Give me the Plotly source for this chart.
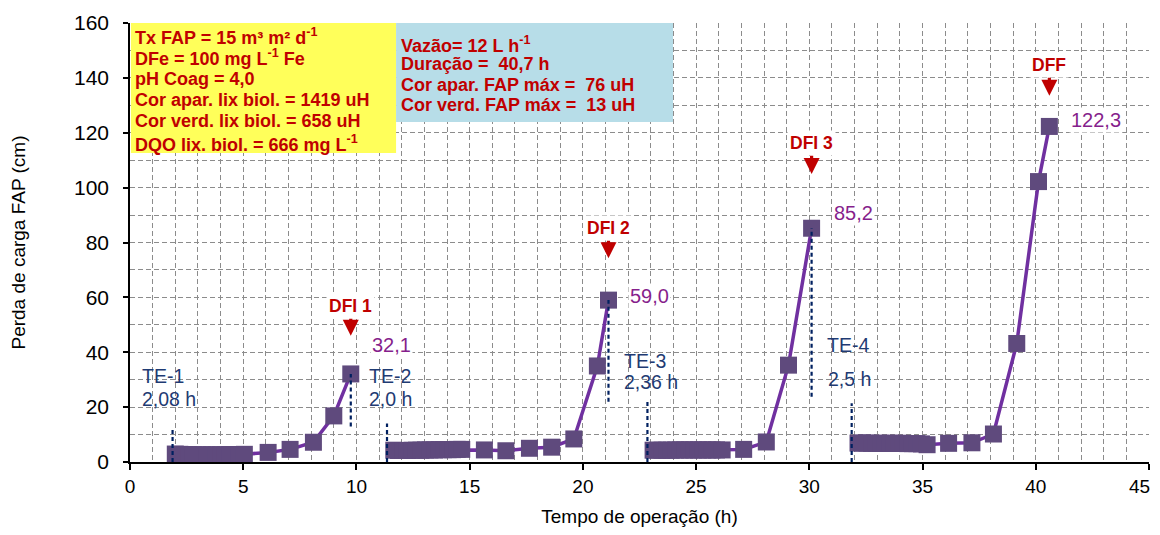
import plotly.graph_objects as go

# ---------------- data (time in h, head loss in cm) ----------------
c1_t = [2.0, 2.2, 2.4, 2.6, 2.8, 3.0, 3.2, 3.4, 3.6, 3.8, 4.0, 4.2, 4.4, 4.6, 4.8, 5.05,
        6.1, 7.07, 8.1, 9.0, 9.75]
c1_h = [2.9, 2.8, 2.7, 2.7, 2.6, 2.6, 2.6, 2.6, 2.6, 2.6, 2.6, 2.6, 2.7, 2.7, 2.7, 2.8,
        3.5, 4.6, 7.2, 16.8, 32.1]

c2_t = [11.65, 11.85, 12.05, 12.25, 12.45, 12.65, 12.85, 13.05, 13.25, 13.45, 13.65, 13.85,
        14.05, 14.25, 14.45, 14.65, 15.65, 16.6, 17.64, 18.62, 19.6, 20.64, 21.13]
c2_h = [4.3, 4.2, 4.2, 4.2, 4.3, 4.3, 4.3, 4.4, 4.4, 4.4, 4.5, 4.5,
        4.5, 4.5, 4.6, 4.6, 4.4, 4.1, 5.0, 5.4, 8.4, 35.0, 59.0]

c3_t = [23.1, 23.3, 23.5, 23.7, 23.9, 24.1, 24.3, 24.5, 24.7, 24.9, 25.1, 25.3, 25.5, 25.7,
        25.9, 26.15, 27.1, 28.1, 29.08, 30.1]
c3_h = [4.3, 4.3, 4.3, 4.3, 4.3, 4.4, 4.4, 4.4, 4.4, 4.4, 4.4, 4.4, 4.4, 4.4,
        4.4, 4.4, 4.6, 7.3, 35.3, 85.2]

c4_t = [32.15, 32.35, 32.55, 32.75, 32.95, 33.15, 33.35, 33.55, 33.75, 33.95, 34.15, 34.35,
        34.55, 34.75, 34.95, 35.2, 36.15, 37.18, 38.13, 39.16, 40.12, 40.6]
c4_h = [6.9, 6.9, 6.9, 6.8, 6.8, 6.8, 6.8, 6.8, 6.8, 6.8, 6.8, 6.7,
        6.7, 6.7, 6.6, 6.3, 6.8, 7.0, 10.2, 43.2, 102.2, 122.3]

cycles_t = [c1_t, c2_t, c3_t, c4_t]
cycles_h = [c1_h, c2_h, c3_h, c4_h]

# x tick labels
x_ticks = [0, 5, 10, 15, 20, 25, 30, 35, 40, 45]
x_ticklabels = ["0", "5", "10", "15", "20", "25", "30", "35", "40", "45"]

# Filter run times (TE) and filtration-end labels
te_names = ["TE-1", "TE-2", "TE-3", "TE-4"]
te_hours = ["2,08 h", "2,0 h", "2,36 h", "2,5 h"]
te_x = [1.88, 11.35, 22.85, 31.87]
te_top = [12.4, 14.0, 22.0, 21.4]
dfi_names = ["DFI 1", "DFI 2", "DFI 3", "DFF"]
dfi_bottom = [12.9, 22.0, 23.8]

yellow_lines = ["Tx FAP = 15 m³ m² d<sup>-1</sup>",
                "DFe = 100 mg L<sup>-1</sup> Fe",
                "pH Coag = 4,0",
                "Cor apar. lix biol. = 1419 uH",
                "Cor verd. lix biol. = 658 uH",
                "DQO lix. biol. = 666 mg L<sup>-1</sup>"]
blue_lines = ["Vazão= 12 L h<sup>-1</sup>",
              "Duração =  40,7 h",
              "Cor apar. FAP máx =  76 uH",
              "Cor verd. FAP máx =  13 uH"]

# ---------------- styles ----------------
FONT = "Liberation Sans, Arial, sans-serif"
LINE_C = "#7030A0"
MARK_C = "#5F4A7D"
NAVY = "#1F3B73"
RED = "#C00000"
VAL_C = "#861F8C"
GRID_C = "#8C8C8C"
GDASH = "5px,3px"

fig = go.Figure()

for t, h in zip(cycles_t, cycles_h):
    fig.add_trace(go.Scatter(
        x=t, y=h, mode="lines+markers",
        line=dict(color=LINE_C, width=3.5),
        marker=dict(symbol="square", size=17, color=MARK_C, line=dict(width=0)),
        showlegend=False, hoverinfo="x+y"))

shapes = []
annotations = []

# text boxes
shapes.append(dict(type="rect", xref="x", yref="y", x0=0.04, x1=11.75, y0=112.6, y1=160,
                   fillcolor="#FFFF5A", line=dict(width=0), layer="above"))
shapes.append(dict(type="rect", xref="x", yref="y", x0=11.75, x1=23.98, y0=123.9, y1=160,
                   fillcolor="#B7DDE8", line=dict(width=0), layer="above"))
yellow_y = [155.0, 147.3, 139.6, 131.9, 124.4, 116.1]
for txt, yy in zip(yellow_lines, yellow_y):
    annotations.append(dict(x=0.12, y=yy, xref="x", yref="y", text=txt, showarrow=False,
                            xanchor="left", yanchor="middle",
                            font=dict(family=FONT, size=18, color=RED, weight="bold")))
blue_y = [152.3, 145.1, 137.3, 130.0]
for txt, yy in zip(blue_lines, blue_y):
    annotations.append(dict(x=11.87, y=yy, xref="x", yref="y", text=txt, showarrow=False,
                            xanchor="left", yanchor="middle",
                            font=dict(family=FONT, size=18, color=RED, weight="bold")))

# TE dashed lines and labels
te_label_x = [0.44, 10.45, 21.72, 30.7]
te_label_y1 = [31.4, 31.4, 36.8, 42.8]
te_label_y2 = [23.1, 23.1, 29.0, 30.3]
for i in range(4):
    shapes.append(dict(type="line", xref="x", yref="y", x0=te_x[i], x1=te_x[i],
                       y0=0, y1=te_top[i], line=dict(color="#002060", width=2.2, dash="4px,3px"),
                       layer="above"))
    annotations.append(dict(x=te_label_x[i], y=te_label_y1[i], xref="x", yref="y",
                            text=te_names[i], showarrow=False, xanchor="left", yanchor="middle",
                            font=dict(family=FONT, size=19.5, color=NAVY)))
    annotations.append(dict(x=te_label_x[i] + 0.02, y=te_label_y2[i], xref="x", yref="y",
                            text=te_hours[i], showarrow=False, xanchor="left", yanchor="middle",
                            font=dict(family=FONT, size=19.5, color=NAVY)))

# DFI dashed lines (from peak downward)
for i in range(3):
    xt = cycles_t[i][-1]
    shapes.append(dict(type="line", xref="x", yref="y", x0=xt, x1=xt,
                       y0=dfi_bottom[i], y1=cycles_h[i][-1],
                       line=dict(color="#002060", width=2.2, dash="4px,3px"), layer="above"))

# DFI / DFF labels with arrows
dfi_text_y = [56.8, 85.2, 116.2, 144.6]
dfi_arrow_y = [46.0, 74.3, 105.0, 133.5]
for i in range(4):
    xt = cycles_t[i][-1]
    annotations.append(dict(x=xt, y=dfi_arrow_y[i], xref="x", yref="y", text=dfi_names[i],
                            showarrow=True, ax=xt, ay=dfi_text_y[i], axref="x", ayref="y",
                            arrowhead=2, arrowsize=1.0, arrowwidth=3.2, arrowcolor=RED,
                            standoff=0, startstandoff=0,
                            bgcolor="white", borderpad=2,
                            font=dict(family=FONT, size=17.5, color=RED, weight="bold")))

# peak value labels
val_x = [11.53, 22.95, 31.95, 42.67]
val_y = [42.6, 60.5, 90.7, 124.6]
for i in range(4):
    pk = cycles_h[i][-1]
    annotations.append(dict(x=val_x[i], y=val_y[i], xref="x", yref="y",
                            text=f"{pk:.1f}".replace(".", ","), showarrow=False,
                            xanchor="center", yanchor="middle", bgcolor="white", borderpad=1,
                            font=dict(family=FONT, size=20, color=VAL_C)))

# last x tick label drawn right-aligned so it stays inside the page
annotations.append(dict(x=x_ticks[-1], y=0, xref="x", yref="paper", text=x_ticklabels[-1],
                        showarrow=False, xanchor="right", yanchor="middle",
                        xshift=3, yshift=-24,
                        font=dict(family=FONT, size=19, color="black")))

fig.update_layout(
    width=1144, height=519, autosize=False,
    margin=dict(l=122, r=3, t=15, b=65),
    paper_bgcolor="white", plot_bgcolor="white",
    font=dict(family=FONT, color="black"),
    shapes=shapes, annotations=annotations,
    xaxis=dict(range=[0, 45], tickmode="array", tickvals=x_ticks,
               ticktext=x_ticklabels[:-1] + [""],
               showline=True, linecolor="black",
               linewidth=1.5, ticks="outside", ticklen=6, tickcolor="black", tickwidth=1.5,
               automargin=False,
               showgrid=True, gridcolor=GRID_C, griddash=GDASH, gridwidth=1.2,
               minor=dict(dtick=1, showgrid=True, gridcolor=GRID_C, griddash=GDASH,
                          gridwidth=1.2),
               zeroline=False, tickfont=dict(family=FONT, size=19, color="black"),
               title=dict(text="Tempo de operação (h)", standoff=18,
                          font=dict(family=FONT, size=19, color="black"))),
    yaxis=dict(range=[0, 160], tick0=0, dtick=20, showline=True, linecolor="black",
               linewidth=1.5, ticks="outside", ticklen=5, tickcolor="black", tickwidth=1.5,
               ticklabelstandoff=10, automargin=False,
               showgrid=True, gridcolor=GRID_C, griddash=GDASH, gridwidth=1.2,
               minor=dict(dtick=10, showgrid=True, gridcolor=GRID_C, griddash=GDASH,
                          gridwidth=1.2),
               zeroline=False, tickfont=dict(family=FONT, size=21, color="black"),
               title=dict(text="Perda de carga FAP (cm)", standoff=44,
                          font=dict(family=FONT, size=19, color="black"))),
)

fig.write_html("out.html")
